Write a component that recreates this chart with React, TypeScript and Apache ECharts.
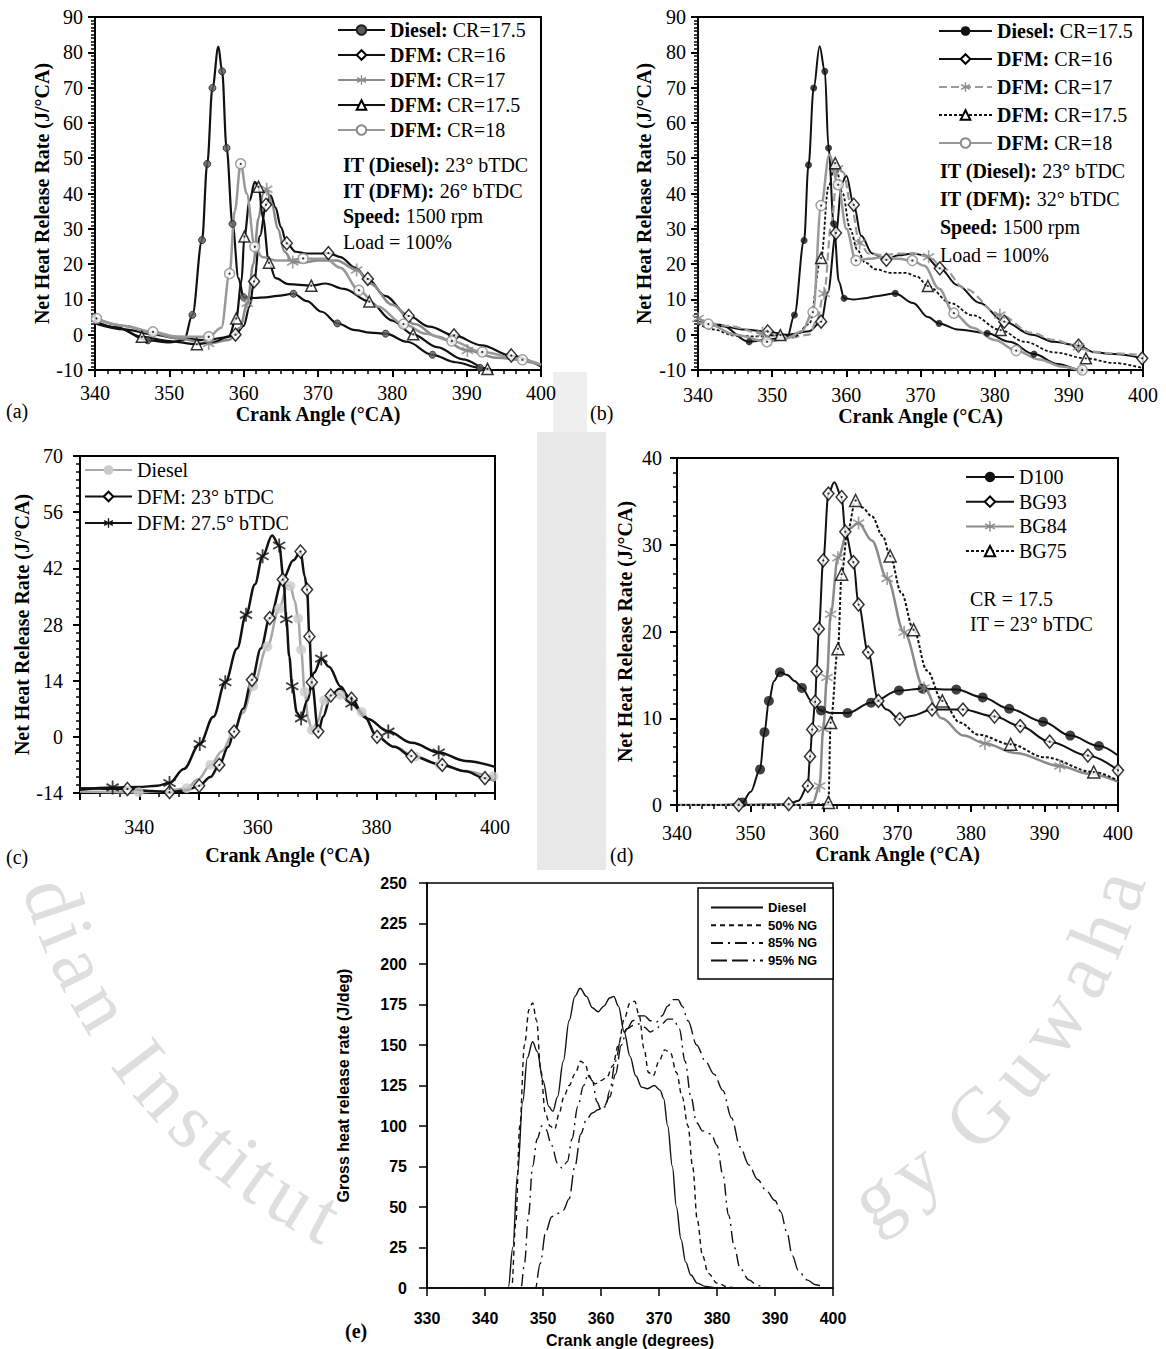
import React, { useEffect, useRef } from 'react';
import * as echarts from 'echarts';

const SERIF = '"Liberation Serif","Times New Roman",serif';
const SANS = '"Liberation Sans",Arial,sans-serif';

// ---------------- DATA ----------------
// points: [crank angle, heat release rate, 1 = marker drawn at this point]
// Panel (a)
const A_NAMES = ['Diesel: CR=17.5', 'DFM: CR=16', 'DFM: CR=17', 'DFM: CR=17.5', 'DFM: CR=18'];
const A_DIESEL = [[340,3.8],[343,2],[347.1,-1.6,1],[350,-2.2],[352,-1.5],[353.1,5.6,1],[354.4,26.8,1],[355.1,48.4,1],[355.8,69.9,1],[356.6,81.6],[357.1,74.6,1],[357.7,52.9,1],[358.5,31.4,1],[359.3,16],[360,10.6,1],[361.5,10.4],[363,10.6],[364.5,11],[366.7,11.6,1],[368.5,9.5],[370.5,6.5],[372.6,3.2,1],[375,1.3],[377,0.6],[379.1,0.3,1],[382,-2],[385.4,-5.7,1],[388.5,-7.8],[391.8,-9.4,1],[394,-11]];
const A_CR16 = [[340,3.2],[344,1.5],[348,0],[351,-1],[355,-1.5],[357.5,-0.8],[358.9,0,1],[360,2.5],[360.8,8],[361.4,15.1,1],[362.2,28],[363,36.8,1],[363.6,39.5],[364.3,36],[365,30.5],[365.8,25.9,1],[367,23.5],[368.5,23],[370,23],[371.4,23.1,1],[373,22],[375,19],[376.7,15.8,1],[379,11],[382.2,5.3,1],[385,2.3],[388.3,-0.2,1],[392,-3],[396,-5.9,1],[400,-9]];
const A_CR17 = [[340,4.6],[344,2.5],[347.5,0.6],[351,-1],[355.3,-2.5,1],[358,-1.5],[359.5,2],[360.5,8.9,1],[361.3,20],[362,33],[362.6,40],[363.1,41.2,1],[363.8,37],[364.6,30],[365.5,23.5],[366.6,20.6,1],[368,20.5],[370,21],[372.5,21],[375.2,18.3,1],[377,14.5],[380,8.5],[383,3],[386,-0.5],[390.1,-4.5,1],[394,-6.5],[400,-8.5]];
const A_CR175 = [[340,3.5],[343,2],[346.3,-0.6,1],[350,-1.8],[353.7,-2.7,1],[356,-2],[358,-0.5],[359,4.6,1],[359.7,15],[360.1,27.8,1],[360.8,38],[361.5,43.3],[362,41.9,1],[362.6,33],[363.4,20.4,1],[364.3,16],[366,14.3],[369.1,13.9,1],[371,14.5],[373.5,13],[376.9,9.4,1],[380,4],[382.8,0.1,1],[386,-3.5],[389.5,-7],[392.8,-9.7,1],[394,-11]];
const A_CR18 = [[340.2,4.6,1],[344,2.5],[347.8,0.8,1],[351,-0.5],[355.3,-0.6,1],[357,2],[358.1,17.3,1],[358.8,35],[359.6,48.4,1],[360.4,40],[361.5,24.9,1],[362.5,22],[364.5,21],[366,21],[368,21.6,1],[371,21.5],[373,19],[375.5,12.6,1],[378,8],[381.5,3,1],[384.5,0.3],[388,-1.8,1],[392.1,-4.9,1],[397.5,-7.1,1],[400,-8.5]];
const A_NOTES = [['IT (Diesel):', ' 23° bTDC'], ['IT (DFM):', ' 26° bTDC'], ['Speed:', ' 1500 rpm'], ['', 'Load = 100%']];

// Panel (b)
const B_NAMES = ['Diesel: CR=17.5', 'DFM: CR=16', 'DFM: CR=17', 'DFM: CR=17.5', 'DFM: CR=18'];
const B_DIESEL = [[340,3.7],[343,2.8],[346.9,-2,1],[350,-1.2],[352,-1],[353,5.6,1],[354.3,26.7,1],[354.9,48.1,1],[355.6,69.9,1],[356.4,81.7],[357.1,74.6,1],[357.6,52.9,1],[358.3,31.4,1],[359,15],[359.7,10.3,1],[361,10],[362.5,10.3],[364,10.9],[366.6,11.7,1],[369,9],[371,5],[372.5,3.2,1],[375,1.5],[379,0.4,1],[382,-2],[385.3,-5.5,1],[388.5,-8.3],[391.6,-10,1],[393,-11]];
const B_CR16 = [[340,3.5],[343,2.5],[346,1.5],[349.4,0.9,1],[352,0],[355,1],[356.6,3.7,1],[357.5,12],[358.6,28.8,1],[359.4,43],[360,45],[361,36.8,1],[362,28],[363.5,23],[365.4,21.2,1],[367,22.5],[369,23],[370.5,22.5],[372.6,18.8,1],[375,14],[378,9],[381.3,3.7,1],[385,0],[388,-2],[391.3,-3.1,1],[393.5,-5],[396,-5.5],[399.9,-6.7,1]];
const B_CR17 = [[340,4.6,1],[344,2.5],[348.7,0.4,1],[352,-1],[355,0],[356,4],[357,11.7,1],[358,32],[358.8,47,1],[359.6,46],[360.6,37],[361.8,26,1],[363,23],[365,22.5],[367,23],[369,23],[371.1,22.1,1],[373,19],[376,13],[380.7,5.6,1],[385,0.5],[388,-1.5],[391.3,-3.4,1],[393,-4.8],[396,-5.3],[400,-5.8]];
const B_CR175 = [[340,3.2],[342,1.5],[345,-0.3],[348,-0.5],[351.1,-0.1,1],[353,-0.5],[355,3],[356.6,21.7,1],[357.6,42],[358.5,48.6,1],[359.5,40],[360.5,30],[361.5,24],[362.5,20.5],[364,18.5],[366,17.5],[368,17.5],[369.5,16.5],[371,13.8,1],[374,9],[377,5.5],[380.8,1.3,1],[384,-2],[388,-5],[392.3,-6.7,1],[396,-8],[400,-9.5]];
const B_CR18 = [[340,3.5],[341.4,3,1],[345,0],[349.3,-2,1],[352,-1],[354,1],[355.5,6.4,1],[356.6,36.6,1],[357.7,51],[358.9,42.5,1],[360,30],[361.3,21,1],[363,21.5],[365,22],[367,21.5],[368.9,21,1],[370.5,19.5],[372.5,13],[374.5,6.1,1],[377,2],[380,-1.5],[382.9,-4.5,1],[386,-7],[389,-9],[391.8,-10,1],[393,-11]];
const B_NOTES = [['IT (Diesel):', ' 23° bTDC'], ['IT (DFM):', ' 32° bTDC'], ['Speed:', ' 1500 rpm'], ['', 'Load = 100%']];

// Panel (c)
const C_NAMES = ['Diesel', 'DFM: 23° bTDC', 'DFM: 27.5° bTDC'];
const C_DIESEL = [[330,-13.6],[339.9,-13.8,1],[344,-13.6],[348,-12.8,1],[350,-10.5],[352,-7,1],[354,-3.5],[355.8,0.9,1],[357.5,6],[359.2,12.6,1],[361.6,22.5,1],[363.6,32,1],[365,37.8],[365.5,37.6,1],[366.2,34],[366.8,29.5,1],[367.3,21.7,1],[367.9,11.2,1],[368.5,4.5],[369.1,1.7,1],[370,3.5],[371.2,9.1,1],[372.5,11],[373.9,10.5,1],[375.5,8.5],[377.5,6.2,1],[380.2,0,1],[383,-2.5],[386.6,-4.9,1],[390.7,-7,1],[395,-8.5],[399.7,-9.9,1],[400,-10]];
const C_DFM23 = [[330,-12.8],[338,-13,1],[342,-13.5],[345.1,-13.8,1],[348,-13.3],[350.1,-12.2,1],[352,-10],[353.5,-7,1],[355,-2.5],[356,1.3,1],[357.5,7],[359,14.2,1],[360.5,22],[362,29.6,1],[364.2,39.2,1],[366,44],[367.2,46.2,1],[367.9,40],[368.3,36.7,1],[368.7,25,1],[369.1,13.6,1],[370.2,1.3,1],[371,5],[372.3,10.3,1],[373.8,12],[375.8,9.5,1],[378,5],[380.1,0,1],[383,-2.5],[385.9,-4.8,1],[391.1,-7,1],[395,-8.6],[398.3,-10.3,1],[400,-11]];
const C_DFM275 = [[330,-13.2],[335.5,-12.6,1],[340,-12.5],[343,-12.2],[345.1,-11.5,1],[347.5,-8],[350.2,-1.8,1],[352.5,5],[354.5,13.6,1],[356.5,22],[358,30.4,1],[359.5,38],[360.8,45,1],[362.4,50.2],[363.6,47.7,1],[364.3,40],[364.8,29.3,1],[365.3,20],[365.8,12.6,1],[366.6,6],[367.3,4.6,1],[368.3,9],[369.5,16],[370.7,19.5,1],[372,17.5],[374,12.5],[375.8,8.3,1],[378.5,4.5],[382,1.3,1],[386,-1.5],[390.5,-3.9,1],[395,-6],[400,-7.5]];

// Panel (d)
const D_NAMES = ['D100', 'BG93', 'BG84', 'BG75'];
const D_D100 = [[340,0],[346,0],[347.5,0.05],[348.9,0.3,1],[350,1.5],[351.3,4.1,1],[351.9,8.4,1],[352.5,12,1],[353.2,14.3],[354,15.3,1],[355,15],[356,14.3],[357,13.5,1],[358.3,12],[359.6,10.9,1],[361,10.6],[363.2,10.6,1],[366.4,11.8,1],[370.2,13.2,1],[373.4,13.4,1],[378,13.3,1],[381.6,12.4,1],[385.2,11.1,1],[389.8,9.6,1],[393.5,8,1],[397.4,6.8,1],[400,5.7]];
const D_BG93 = [[340,0],[348.4,0,1],[355.2,0.1,1],[356.5,0.5],[357.8,2.2,1],[358.1,5.6,1],[358.4,8.7,1],[358.8,11.9,1],[359,15.4,1],[359.3,20.3,1],[359.9,28.2,1],[360.6,35.9,1],[361.4,37.2],[362.4,35.5,1],[362.9,31.5,1],[364,28,1],[364.7,23.1,1],[366,17.6,1],[367.4,12,1],[368.5,11],[370.3,9.9,1],[372,10.3],[374.7,11,1],[378.9,11,1],[383.2,10.2,1],[386.7,9.1,1],[390.7,7.3,1],[395.9,5.7,1],[400,4,1]];
const D_BG84 = [[340,0],[357,0],[358.5,0.3],[359.4,2.2,1],[359.9,8.8,1],[360.4,14.7,1],[360.9,22,1],[361.9,28.5,1],[363.3,31.8],[364.7,32.5,1],[366.5,30.5],[368.6,26.1,1],[370.9,19.9,1],[373.6,13.5,1],[376,10],[379,8],[381.9,7.1,1],[386,6],[392.1,4.5,1],[396,3.6],[400,2.7]];
const D_BG75 = [[340,0],[358,0],[360.2,0.1],[360.6,0.3,1],[360.9,9.5,1],[361.9,18,1],[362.4,26.6,1],[363.2,31.5],[364.3,35.1,1],[365.2,34.3],[366.5,33.3],[368,31],[369,28.7,1],[370.5,24.5],[372.2,20.2,1],[374,15.5],[376.1,12,1],[378.5,9.5],[381,8.1],[385.4,7,1],[390,5.5],[396.7,3.8,1],[400,2.8]];
const D_NOTES = ['CR = 17.5', 'IT = 23° bTDC'];

// Panel (e)
const E_NAMES = ['Diesel', '50% NG', '85% NG', '95% NG'];
const E_DIESEL = [[330,0],[344,0],[344.8,25],[345.6,70],[346.5,115],[347.3,142],[348.2,152],[349,146],[350,128],[351,112],[351.7,109],[352.5,118],[353.5,140],[354.5,165],[355.5,180],[356.4,185],[357.5,180],[358.5,173],[359.5,170.5],[360.5,174],[361.5,179],[362.2,180],[363,174],[364,158],[365,143],[366,131],[367,124],[368,123],[369.2,125],[370.2,122],[370.8,117],[371.5,100],[372.3,75],[373,50],[373.8,30],[374.6,16],[375.5,8],[376.6,3],[378,1],[380,0],[400,0]];
const E_NG50 = [[330,0],[344.6,0],[345.3,40],[346,100],[346.8,150],[347.6,172],[348.2,176],[348.9,165],[349.6,135],[350.4,108],[351.2,100],[352,98],[352.8,108],[353.6,118],[354.5,125],[355.5,132],[356.5,140],[357.3,138],[358,130],[359,126],[360,128],[361,130],[362,137],[363,150],[364,166],[365,176],[365.8,177],[366.6,168],[367.4,148],[368.2,133],[369,131],[370,140],[371,147],[372,145],[373,133],[374,118],[375,100],[375.8,75],[376.6,42],[377.5,20],[378.5,9],[380,3],[382,0.5],[384,0],[400,0]];
const E_NG85 = [[330,0],[346.2,0],[346.8,15],[347.5,45],[348.2,75],[349,92],[349.8,100],[350.5,98],[351.5,88],[352.5,77],[353.3,74],[354.2,78],[355,92],[356,112],[357,125],[357.8,132],[358.5,128],[359.3,115],[360,110],[360.8,112],[361.5,122],[362.5,140],[363.5,155],[364.5,160],[365.5,162],[366.5,163],[367.5,161],[368.5,158],[369.5,160],[370.5,163],[371.5,166],[372.5,166],[373.5,160],[374.5,140],[375.5,118],[376.5,102],[377.5,97],[379,95],[380,88],[381,70],[382,45],[383,25],[384,12],[385.5,5],[387,1.5],[389,0],[400,0]];
const E_NG95 = [[330,0],[348.7,0],[349.5,15],[350.5,35],[351.5,44],[352.5,46],[353.5,48],[354.5,55],[355.5,75],[356.5,95],[357.5,104],[358.5,108],[359.5,110],[360.5,112],[361.5,118],[362.5,132],[363.5,150],[364.5,160],[365.5,165],[366.5,168],[367.5,168],[368.5,165],[369.5,164],[370.5,168],[371.5,174],[372.5,178],[373.3,178],[374,174],[375,165],[376.5,150],[378,140],[379.5,132],[381,122],[382.5,105],[384,87],[385.5,76],[387,67],[388.5,60],[390,54],[391,47],[392,35],[393,20],[394,11],[395.5,5],[397,2],[399,0],[400,0]];

const WATERMARK = 'Indian Institute of Technology Guwahati';

// ---------------- STYLE HELPERS ----------------
function asteriskPath() {
  const w = 0.13;
  const parts: string[] = [];
  [90, 30, -30].forEach((deg) => {
    const a = (deg * Math.PI) / 180;
    const dx = Math.cos(a), dy = Math.sin(a);
    const nx = -Math.sin(a) * w, ny = Math.cos(a) * w;
    const pts = [[dx + nx, dy + ny], [-dx + nx, -dy + ny], [-dx - nx, -dy - ny], [dx - nx, dy - ny]];
    parts.push('M' + pts.map((p) => p[0].toFixed(3) + ' ' + p[1].toFixed(3)).join(' L') + ' Z');
  });
  return 'path://' + parts.join(' ');
}
const ASTER = asteriskPath();

type St = {
  color: string; width: number; dash?: any; symbol?: string; size?: any;
  item?: any; dot?: boolean;
};

function makeSeries(panel: string, label: string, pts: number[][], gi: number, st: St) {
  const name = panel + '|' + label;
  const out: any[] = [];
  const item = st.item || { color: 'transparent', borderWidth: 0 };
  out.push({
    type: 'line', name, xAxisIndex: gi, yAxisIndex: gi,
    data: pts.map((p) => [p[0], p[1]]),
    smooth: 0.35, smoothMonotone: 'x',
    showSymbol: false, symbol: st.symbol || 'circle', symbolSize: st.size || 8, symbolKeepAspect: true,
    itemStyle: item,
    lineStyle: { color: st.color, width: st.width, type: st.dash || 'solid' },
    z: 2, silent: true, clip: true,
  });
  const marks = pts.filter((p) => p[2]);
  if (marks.length && st.item) {
    out.push({
      type: 'scatter', name, xAxisIndex: gi, yAxisIndex: gi,
      data: marks.map((p) => [p[0], p[1]]),
      symbol: st.symbol, symbolSize: st.size, symbolKeepAspect: true,
      itemStyle: item, z: 3, silent: true, clip: true,
    });
    if (st.dot) {
      out.push({
        type: 'scatter', name, xAxisIndex: gi, yAxisIndex: gi,
        data: marks.map((p) => [p[0], p[1]]),
        symbol: 'circle', symbolSize: 2.2, itemStyle: { color: '#000' }, z: 4, silent: true, clip: true,
      });
    }
  }
  return out;
}

const OPEN = (stroke: string) => ({ color: '#fff', borderColor: stroke, borderWidth: 1.5 });

function xSerif(gi: number, min: number, max: number, minor: number, margin: number, gap: number, fmt?: any) {
  const o: any = {
    gridIndex: gi, type: 'value', min, max, interval: 10,
    axisLine: { show: true, onZero: false, lineStyle: { color: '#000', width: 2 } },
    axisTick: { show: true, inside: false, length: 7, lineStyle: { color: '#000', width: 2 } },
    minorTick: { show: true, splitNumber: minor, length: 4, lineStyle: { color: '#000', width: 1.5 } },
    splitLine: { show: false }, minorSplitLine: { show: false },
    axisLabel: { fontFamily: SERIF, fontSize: 20, color: '#000', margin },
    name: 'Crank Angle (°CA)', nameLocation: 'middle', nameGap: gap,
    nameTextStyle: { fontFamily: SERIF, fontSize: 20, fontWeight: 'bold', color: '#000' },
  };
  if (fmt) o.axisLabel.formatter = fmt;
  return o;
}
function ySerif(gi: number, min: number, max: number, interval: number, minor: number, margin: number, gap: number) {
  return {
    gridIndex: gi, type: 'value', min, max, interval,
    axisLine: { show: true, onZero: false, lineStyle: { color: '#000', width: 2 } },
    axisTick: { show: true, inside: false, length: 7, lineStyle: { color: '#000', width: 2 } },
    minorTick: { show: true, splitNumber: minor, length: 4, lineStyle: { color: '#000', width: 1.5 } },
    splitLine: { show: false }, minorSplitLine: { show: false },
    axisLabel: { fontFamily: SERIF, fontSize: 20, color: '#000', margin },
    name: 'Net Heat Release Rate (J/°CA)', nameLocation: 'middle', nameGap: gap,
    nameTextStyle: { fontFamily: SERIF, fontSize: 20, fontWeight: 'bold', color: '#000' },
  };
}

const stripName = (n: string) => n.slice(n.indexOf('|') + 1);
const boldFmt = (n: string) => {
  const s = stripName(n);
  const i = s.indexOf(':');
  return '{b|' + s.slice(0, i + 1) + '}{n|' + s.slice(i + 1) + '}';
};

function serifLegend(panel: string, names: string[], left: number, top: number, iw: number, ih: number, gap: number, bold: boolean) {
  return {
    left, top, orient: 'vertical', padding: 0, itemWidth: iw, itemHeight: ih, itemGap: gap,
    selectedMode: false,
    data: names.map((n) => panel + '|' + n),
    formatter: bold ? boldFmt : stripName,
    textStyle: {
      fontFamily: SERIF, fontSize: 20, color: '#000', lineHeight: 20,
      rich: {
        b: { fontFamily: SERIF, fontSize: 20, fontWeight: 'bold', color: '#000', lineHeight: 20 },
        n: { fontFamily: SERIF, fontSize: 20, color: '#000', lineHeight: 20 },
      },
    },
  };
}

function noteText(x: number, y: number, parts: string[]) {
  return {
    type: 'text', x, y, z: 10,
    style: {
      text: (parts[0] ? '{b|' + parts[0] + '}' : '') + '{n|' + parts[1] + '}',
      rich: {
        b: { fontFamily: SERIF, fontSize: 20, fontWeight: 'bold', fill: '#000' },
        n: { fontFamily: SERIF, fontSize: 20, fill: '#000' },
      },
      fontFamily: SERIF, fontSize: 20, fill: '#000', align: 'left', verticalAlign: 'middle',
    },
  };
}
function plainText(x: number, y: number, text: string, bold = false) {
  return {
    type: 'text', x, y, z: 10,
    style: { text, fontFamily: SERIF, fontSize: 20, fontWeight: bold ? 'bold' : 'normal', fill: '#000', align: 'left', verticalAlign: 'middle' },
  };
}

function watermark() {
  const W: Record<string, number> = { I: .333, n: .5, d: .5, i: .278, a: .444, ' ': .25, s: .389, t: .278, u: .5, e: .444, o: .5, f: .333, T: .611, c: .444, h: .5, l: .278, g: .5, y: .5, G: .722, w: .722 };
  const chars = WATERMARK.split('');
  const centers: number[] = [];
  let cum = 0;
  chars.forEach((ch) => { const w = W[ch] || 0.5; centers.push(cum + w / 2); cum += w; });
  const cx = 583, cy = 722, R = 558, t0 = 161.5, degPerEm = 9.95;
  const els: any[] = [];
  chars.forEach((ch, i) => {
    if (ch === ' ') return;
    const t = t0 - (centers[i] - centers[2]) * degPerEm;
    const a = (t * Math.PI) / 180;
    const x = cx + R * Math.cos(a), y = cy + R * Math.sin(a);
    const hidden = (x < 540 && y > 430 && y < 872) || (x > 603 && y > 430 && y < 872) || (x > 335 && x < 848 && y > 868) || y < 430;
    if (hidden) return;
    els.push({
      type: 'text', x, y, rotation: ((90 - t) * Math.PI) / 180, z: -5, silent: true,
      style: { text: ch, fontFamily: SERIF, fontSize: 80, fill: '#dedede', align: 'center', verticalAlign: 'middle' },
    });
  });
  return els;
}

function buildOption() {
  const grids = [
    { left: 95, top: 17, width: 446, height: 353 },
    { left: 698, top: 17, width: 445, height: 353 },
    { left: 80, top: 456, width: 415, height: 337 },
    { left: 677, top: 458, width: 441, height: 347 },
    { left: 427, top: 883, width: 406, height: 405 },
  ].map((g) => ({ ...g, show: true, borderColor: '#000', borderWidth: 2, backgroundColor: 'transparent' }));
  grids[4].borderWidth = 1.5;

  const xAxis = [
    xSerif(0, 340, 400, 6, 13, 32),
    xSerif(1, 340, 400, 6, 15, 33),
    xSerif(2, 330, 400, 3, 24, 52, (v: number) => (v % 20 === 0 ? String(v) : '')),
    xSerif(3, 340, 400, 6, 18, 37),
    {
      gridIndex: 4, type: 'value', min: 330, max: 400, interval: 10,
      axisLine: { show: true, onZero: false, lineStyle: { color: '#000', width: 1.5 } },
      axisTick: { show: true, length: 8, lineStyle: { color: '#000', width: 1.5 } },
      splitLine: { show: false },
      axisLabel: { fontFamily: SANS, fontSize: 16, fontWeight: 'bold', color: '#000', margin: 22 },
      name: 'Crank angle (degrees)', nameLocation: 'middle', nameGap: 44,
      nameTextStyle: { fontFamily: SANS, fontSize: 16, fontWeight: 'bold', color: '#000' },
    },
  ];
  const yAxis = [
    ySerif(0, -10, 90, 10, 10, 12, 39),
    ySerif(1, -10, 90, 10, 10, 12, 44),
    ySerif(2, -14, 70, 14, 7, 17, 45),
    ySerif(3, 0, 40, 10, 6, 15, 42),
    {
      gridIndex: 4, type: 'value', min: 0, max: 250, interval: 25,
      axisLine: { show: true, lineStyle: { color: '#000', width: 1.5 } },
      axisTick: { show: true, length: 8, lineStyle: { color: '#000', width: 1.5 } },
      splitLine: { show: false },
      axisLabel: { fontFamily: SANS, fontSize: 16, fontWeight: 'bold', color: '#000', margin: 20 },
      name: 'Gross heat release rate (J/deg)', nameLocation: 'middle', nameGap: 76,
      nameTextStyle: { fontFamily: SANS, fontSize: 16, fontWeight: 'bold', color: '#000' },
    },
  ];

  const GRAY = '#8a8a8a';
  const series = [
    // (a)
    ...makeSeries('a', A_NAMES[0], A_DIESEL, 0, { color: '#111', width: 2.2, symbol: 'circle', size: 7, item: { color: '#5a5a5a', borderColor: '#222', borderWidth: 1 } }),
    ...makeSeries('a', A_NAMES[1], A_CR16, 0, { color: '#111', width: 2.2, symbol: 'diamond', size: [11, 13], item: OPEN('#000'), dot: true }),
    ...makeSeries('a', A_NAMES[2], A_CR17, 0, { color: GRAY, width: 2.5, symbol: ASTER, size: 13, item: { color: GRAY } }),
    ...makeSeries('a', A_NAMES[3], A_CR175, 0, { color: '#111', width: 2.2, symbol: 'triangle', size: 11, item: OPEN('#000'), dot: true }),
    ...makeSeries('a', A_NAMES[4], A_CR18, 0, { color: '#999', width: 2.5, symbol: 'circle', size: 10, item: OPEN('#8a8a8a'), dot: true }),
    // (b)
    ...makeSeries('b', B_NAMES[0], B_DIESEL, 1, { color: '#111', width: 2, symbol: 'circle', size: 7, item: { color: '#111' } }),
    ...makeSeries('b', B_NAMES[1], B_CR16, 1, { color: '#111', width: 2, symbol: 'diamond', size: [11, 13], item: OPEN('#000'), dot: true }),
    ...makeSeries('b', B_NAMES[2], B_CR17, 1, { color: '#9a9a9a', width: 2.2, dash: [8, 4], symbol: ASTER, size: 13, item: { color: GRAY } }),
    ...makeSeries('b', B_NAMES[3], B_CR175, 1, { color: '#111', width: 1.8, dash: [3, 2], symbol: 'triangle', size: 11, item: OPEN('#000'), dot: true }),
    ...makeSeries('b', B_NAMES[4], B_CR18, 1, { color: '#999', width: 2.5, symbol: 'circle', size: 10, item: OPEN('#8a8a8a'), dot: true }),
    // (c)
    ...makeSeries('c', C_NAMES[0], C_DIESEL, 2, { color: '#a8a8a8', width: 2.5, symbol: 'circle', size: 10, item: { color: '#cacaca' } }),
    ...makeSeries('c', C_NAMES[1], C_DFM23, 2, { color: '#111', width: 2.5, symbol: 'diamond', size: [11, 13], item: OPEN('#000'), dot: true }),
    ...makeSeries('c', C_NAMES[2], C_DFM275, 2, { color: '#111', width: 2.5, symbol: ASTER, size: 14, item: { color: '#111' } }),
    // (d)
    ...makeSeries('d', D_NAMES[0], D_D100, 3, { color: '#111', width: 2, symbol: 'circle', size: 10, item: { color: '#111' } }),
    ...makeSeries('d', D_NAMES[1], D_BG93, 3, { color: '#111', width: 2, symbol: 'diamond', size: [11, 13], item: OPEN('#000'), dot: true }),
    ...makeSeries('d', D_NAMES[2], D_BG84, 3, { color: '#8a8a8a', width: 2.5, symbol: ASTER, size: 13, item: { color: '#8a8a8a' } }),
    ...makeSeries('d', D_NAMES[3], D_BG75, 3, { color: '#111', width: 2, dash: [3, 2], symbol: 'triangle', size: 12, item: OPEN('#000'), dot: true }),
    // (e)
    ...makeSeries('e', E_NAMES[0], E_DIESEL, 4, { color: '#111', width: 1.4 }),
    ...makeSeries('e', E_NAMES[1], E_NG50, 4, { color: '#111', width: 1.4, dash: [5, 4] }),
    ...makeSeries('e', E_NAMES[2], E_NG85, 4, { color: '#111', width: 1.4, dash: [12, 5, 2, 5] }),
    ...makeSeries('e', E_NAMES[3], E_NG95, 4, { color: '#111', width: 1.4, dash: [16, 5, 16, 5, 2, 5] }),
  ];

  const legend = [
    serifLegend('a', A_NAMES, 337, 20, 47, 12, 5, true),
    serifLegend('b', B_NAMES, 938, 21, 53, 12, 8, true),
    serifLegend('c', C_NAMES, 84, 460, 47, 12, 6.5, false),
    serifLegend('d', D_NAMES, 965, 467, 48, 13, 4.7, false),
    {
      left: 698, top: 888, orient: 'vertical', padding: [13, 16, 12, 12], itemWidth: 52, itemHeight: 10, itemGap: 4.7,
      borderColor: '#000', borderWidth: 1.5, backgroundColor: '#fff', selectedMode: false,
      data: E_NAMES.map((n) => 'e|' + n), formatter: stripName,
      textStyle: { fontFamily: SANS, fontSize: 13, fontWeight: 'bold', color: '#000', lineHeight: 13 },
    },
  ];

  const graphic = [
    { type: 'rect', shape: { x: 537, y: 432, width: 69, height: 438 }, style: { fill: '#e8e8e8' }, z: -6, silent: true },
    { type: 'rect', shape: { x: 553, y: 372, width: 34, height: 60 }, style: { fill: '#efefef' }, z: -6, silent: true },
    ...watermark(),
    ...A_NOTES.map((p, i) => noteText(343, 165 + i * 25.7, p)),
    ...B_NOTES.map((p, i) => noteText(940, 171 + i * 28, p)),
    ...D_NOTES.map((t, i) => plainText(970, 599 + i * 25, t)),
    plainText(6, 411, '(a)'),
    plainText(590, 413, '(b)'),
    plainText(6, 857, '(c)'),
    plainText(610, 855, '(d)'),
    plainText(345, 1331, '(e)', true),
  ];

  return {
    animation: false,
    backgroundColor: '#fff',
    grid: grids,
    xAxis,
    yAxis,
    legend,
    series,
    graphic,
  };
}

export default function App() {
  const ref = useRef<HTMLDivElement>(null);
  useEffect(() => {
    if (!ref.current) return;
    const chart = echarts.init(ref.current, undefined, { renderer: 'svg' });
    chart.setOption(buildOption() as any);
    return () => chart.dispose();
  }, []);
  return (
    <div
      ref={ref}
      style={{ position: 'absolute', left: 0, top: 0, width: 1166, height: 1349, background: '#fff' }}
    />
  );
}
